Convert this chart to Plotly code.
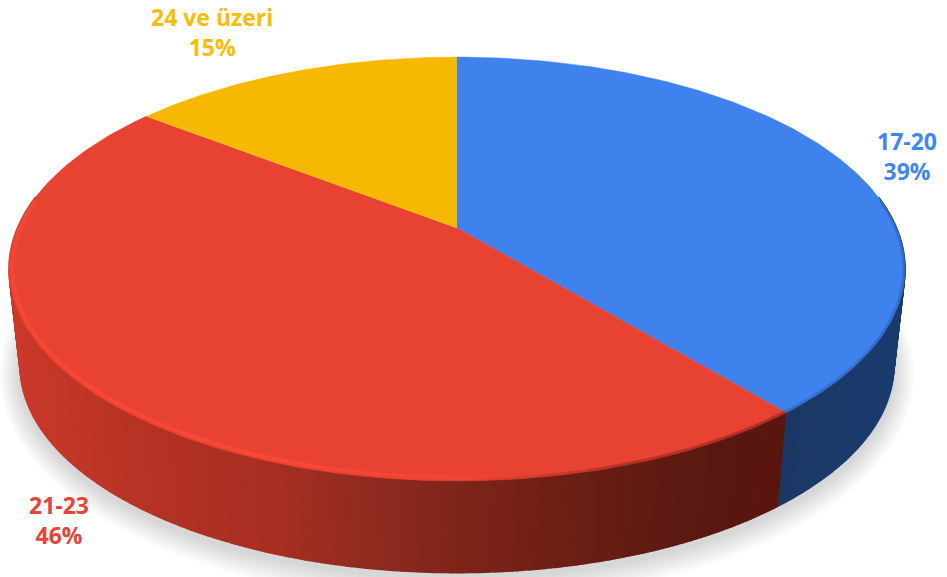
import numpy as np
import plotly.graph_objects as go

categories = ["17-20", "21-23", "24 ve üzeri"]
shares = [39.0, 46.49, 14.51]
colors = ["#3F82EE", "#E84232", "#F7B801"]
label_colors = ["#4285F4", "#EA4335", "#FBBC04"]
label_xy = [(907, 156), (59, 520), (212, 32)]

# projection of the flat disc
CX, CY, A, B, K = 457.0, 228.0, 439.5, 204.0, 0.1935
CY2, SCALE2 = 326.0, 0.975


def project(theta, cy=CY, s=1.0, grow=0.0):
    u, v = np.sin(theta), np.cos(theta)
    d = 1 + K * v
    return CX + (s * A + grow) * u / d, cy - (s * B + grow) * v / d


def hexrgb(h):
    return np.array([int(h[i:i + 2], 16) for i in (1, 3, 5)], float)


def ramp(x, xs, cols):
    arr = np.array([hexrgb(c) for c in cols])
    return "rgb(%d,%d,%d)" % tuple(np.interp(x, xs, arr[:, i]) for i in range(3))


fig = go.Figure()


def poly(x, y, fill, line=None, width=0):
    fig.add_trace(go.Scatter(x=x, y=y, mode="lines", fill="toself", fillcolor=fill,
                             line=dict(color=line or "rgba(0,0,0,0)", width=width),
                             hoverinfo="skip", showlegend=False))


def stroke(x, y, color, width):
    fig.add_trace(go.Scatter(x=x, y=y, mode="lines", line=dict(color=color, width=width),
                             hoverinfo="skip", showlegend=False))


# soft ground shadow
th = np.linspace(0, 2 * np.pi, 361)
for g in range(20, 0, -2):
    sx, sy = project(th, cy=CY2 + 5, s=SCALE2, grow=g)
    poly(sx, sy, "rgba(0,0,0,0.015)")

edges = np.radians(np.cumsum([0] + shares) * 3.6)

# outer wall, drawn as thin strips shaded along the rim
RED_X = [10, 120, 280, 380, 457, 560, 680, 790]
RED_C = ["#CB3A2B", "#B93426", "#A62E22", "#8E2B20", "#80251A", "#6F1F16", "#5C1A12", "#5A160E"]
BLUE_X = [770, 905]
BLUE_C = ["#1B3763", "#1C3D70"]
wall = [(edges[0], edges[1], BLUE_X, BLUE_C), (edges[1], edges[2], RED_X, RED_C)]
for a0, a1, xs, cs in wall:
    lo, hi = max(a0, np.pi * 0.45), min(a1, np.pi * 1.55)
    steps = np.linspace(lo, hi, int((hi - lo) / np.radians(0.6)) + 2)
    for t0, t1 in zip(steps[:-1], steps[1:]):
        seg = np.linspace(t0, t1, 3)
        xt, yt = project(seg)
        xb, yb = project(seg[::-1], cy=CY2, s=SCALE2)
        c = ramp(xt.mean(), xs, cs)
        poly(np.r_[xt, xb], np.r_[yt, yb], c, c, 1.6)

# top face
for a0, a1, c in zip(edges[:-1], edges[1:], colors):
    seg = np.linspace(a0, a1, 180)
    px, py = project(seg)
    poly(np.r_[CX, px], np.r_[CY, py], c, c, 0.5)

# bevel highlight along the front rim of the red slice
RIM_X = [10, 250, 430, 560, 782]
RIM_A = [0.45, 0.6, 0.35, 0.0, 0.0]
steps = np.linspace(edges[1], np.radians(278), 120)
for t0, t1 in zip(steps[:-1], steps[1:]):
    xt, yt = project(np.array([t0, t1]), grow=-3)
    a = float(np.interp(xt.mean(), RIM_X, RIM_A))
    if a > 0:
        stroke(xt, yt, f"rgba(255,76,60,{a * 0.5:.2f})", 6)
        stroke(xt, yt, f"rgba(255,76,60,{a:.2f})", 3)

# soft dark blend where the top face meets the wall on the right
for t0, t1 in zip(steps[:-1], steps[1:]):
    xt, yt = project(np.array([t0, t1]), grow=-1)
    a = float(np.interp(xt.mean(), [470, 620, 782], [0.0, 0.28, 0.35]))
    if a > 0:
        stroke(xt, yt, f"rgba(70,15,10,{a:.2f})", 3)
xt, yt = project(np.linspace(np.radians(82), edges[1], 70), grow=-1)
stroke(xt, yt, "rgba(20,50,100,0.22)", 3)

for name, p, c, (lx, ly) in zip(categories, shares, label_colors, label_xy):
    fig.add_annotation(x=lx, y=ly, text=f"{name}<br>{round(p)}%", showarrow=False,
                       font=dict(family="Open Sans", size=23, color=c, weight="bold"),
                       align="center")

fig.update_layout(width=947, height=577, margin=dict(l=0, r=0, t=0, b=0),
                  paper_bgcolor="white", plot_bgcolor="white", showlegend=False,
                  xaxis=dict(range=[0, 947], visible=False, fixedrange=True),
                  yaxis=dict(range=[577, 0], visible=False, fixedrange=True))
fig.write_html("out.html", config={"displayModeBar": False},
               post_script="document.body.style.margin='0';")
